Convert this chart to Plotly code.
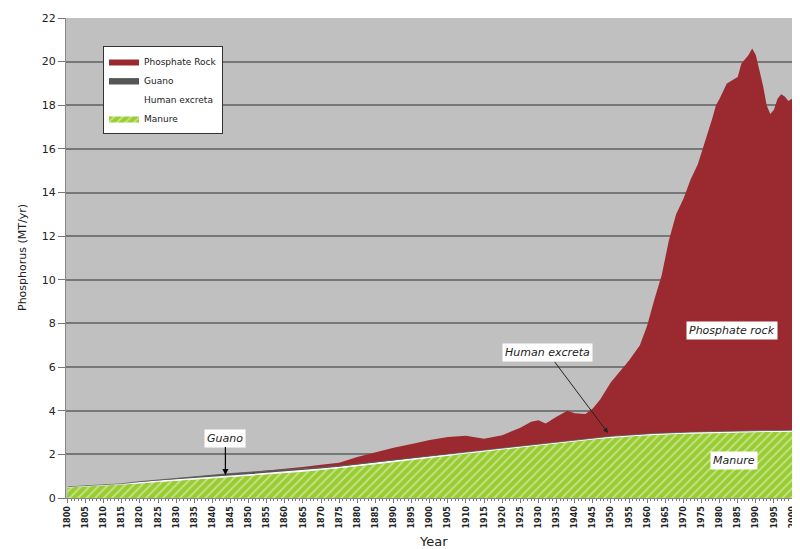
import plotly.graph_objects as go

years = [1800, 1805, 1810, 1815, 1820, 1825, 1830, 1835, 1840, 1845, 1850,
         1855, 1860, 1865, 1870, 1875, 1880, 1885, 1890, 1895, 1900, 1905,
         1910, 1915, 1920, 1925, 1928, 1930, 1932, 1935, 1938, 1940, 1943,
         1945, 1947, 1950, 1952, 1955, 1958, 1960, 1962, 1964, 1966, 1968,
         1970, 1972, 1974, 1976, 1978, 1979, 1980, 1982, 1984, 1985, 1986,
         1988, 1989, 1990, 1991, 1992, 1993, 1994, 1995, 1996, 1997, 1998,
         1999, 2000, 2001, 2002, 2003]

manure = [0.48, 0.52, 0.57, 0.62, 0.67, 0.73, 0.78, 0.84, 0.90, 0.96, 1.02,
          1.07, 1.13, 1.20, 1.28, 1.35, 1.45, 1.55, 1.65, 1.75, 1.85, 1.95,
          2.04, 2.13, 2.22, 2.31, 2.37, 2.41, 2.45, 2.50, 2.56, 2.60, 2.65,
          2.68, 2.71, 2.76, 2.78, 2.82, 2.85, 2.87, 2.89, 2.90, 2.92, 2.93,
          2.94, 2.95, 2.96, 2.97, 2.98, 2.98, 2.99, 2.99, 3.00, 3.00, 3.00,
          3.01, 3.01, 3.01, 3.02, 3.02, 3.02, 3.02, 3.03, 3.03, 3.03, 3.03,
          3.04, 3.04, 3.04, 3.04, 3.04]

human_excreta = [0.04] * 11 + [0.05] * 25 + [0.06] * 35

guano = [0, 0, 0, 0, 0.04, 0.06, 0.07, 0.08, 0.10, 0.12, 0.12,
         0.11, 0.10, 0.09, 0.08, 0.07, 0.06, 0.05, 0.05, 0.04, 0.04, 0.03,
         0.03, 0.02, 0.02, 0.02] + [0.02] * 10 + [0.01] * 35

phosphate_rock = [0, 0, 0, 0, 0, 0, 0, 0, 0, 0, 0,
                  0.02, 0.05, 0.08, 0.11, 0.15, 0.32, 0.45, 0.55, 0.64, 0.72, 0.77,
                  0.73, 0.52, 0.59, 0.84, 1.06, 1.08, 0.90, 1.15, 1.37, 1.21, 1.13,
                  1.35, 1.72, 2.47, 2.85, 3.41, 4.08, 4.96, 6.14, 7.23, 8.81, 10.00,
                  10.69, 11.58, 12.27, 13.26, 14.35, 14.95, 15.24, 15.94, 16.13, 16.23, 16.83,
                  17.22, 17.52, 17.22, 16.51, 15.81, 14.91, 14.51, 14.70, 15.20, 15.40, 15.30,
                  15.09, 15.19, 15.69, 15.89, 16.29]

FONT = "DejaVu Sans"
RED = "#9B2A30"
GREEN = "#99CC33"

# page body has an 8px margin: figure is placed at (8, 8) in the window
OFF = 8
PL, PR, PT, PB = 66, 800, 18, 498  # plot-area edges in window pixels
W, H = 800 - OFF, 549 - OFF

fig = go.Figure()
fig.add_trace(go.Scatter(
    x=years, y=manure, name="Manure", stackgroup="p", mode="lines",
    line=dict(width=0, color=GREEN),
    fillpattern=dict(shape="/", bgcolor=GREEN, fgcolor="#F4FBE6", size=6, solidity=0.3),
))
fig.add_trace(go.Scatter(
    x=years, y=human_excreta, name="Human excreta", stackgroup="p", mode="lines",
    line=dict(width=1.2, color="white"), fillcolor="white",
))
fig.add_trace(go.Scatter(
    x=years, y=guano, name="Guano", stackgroup="p", mode="lines",
    line=dict(width=0.8, color="#555555"), fillcolor="#555555",
))
fig.add_trace(go.Scatter(
    x=years, y=phosphate_rock, name="Phosphate Rock", stackgroup="p", mode="lines",
    line=dict(width=0, color=RED), fillcolor=RED,
))

pw, ph = PR - PL, PB - PT
ann_font = dict(family=FONT, size=11, color="#222", style="italic")
annotations = [
    dict(x=1843.6, y=1.05, xref="x", yref="y", text="Guano", showarrow=True,
         ax=0, ay=-37, arrowhead=2, arrowsize=1, arrowwidth=1.2, arrowcolor="black",
         bgcolor="white", borderpad=2, font=ann_font),
    dict(x=1949.2, y=2.98, xref="x", yref="y", text="Human excreta", showarrow=True,
         ax=-60, ay=-80, arrowhead=2, arrowsize=1, arrowwidth=1, arrowcolor="#222",
         bgcolor="white", borderpad=2, font=ann_font),
    dict(x=1983.4, y=7.7, xref="x", yref="y", text="Phosphate rock", showarrow=False,
         bgcolor="white", borderpad=2, font=ann_font),
    dict(x=1984.0, y=1.7, xref="x", yref="y", text="Manure", showarrow=False,
         bgcolor="white", borderpad=2, font=ann_font),
    dict(x=(433 - PL) / pw, y=(PB - 541) / ph, xref="paper", yref="paper",
         xanchor="center", yanchor="middle",
         text="Year", showarrow=False, font=dict(family=FONT, size=13, color="#222")),
    dict(x=(22 - PL) / pw, y=0.5, xref="paper", yref="paper", textangle=-90,
         xanchor="center", yanchor="middle",
         text="Phosphorus (MT/yr)", showarrow=False,
         font=dict(family=FONT, size=11, color="#222")),
]

fig.update_layout(
    width=W, height=H,
    margin=dict(l=PL - OFF, r=W - (PR - OFF), t=PT - OFF, b=H - (PB - OFF)),
    paper_bgcolor="white", plot_bgcolor="#C0C0C0",
    font=dict(family=FONT, color="#222"),
    showlegend=True,
    legend=dict(x=(103 - PL) / pw, y=(PB - 46) / ph, xanchor="left", yanchor="top",
                bgcolor="white", bordercolor="#333", borderwidth=1,
                font=dict(family=FONT, size=9, color="#222"),
                traceorder="reversed", itemwidth=30, tracegroupgap=0),
    annotations=annotations,
    xaxis=dict(range=[1799.6, 2002.2], dtick=5, tick0=1800, tickangle=-90,
               tickfont=dict(family=FONT, size=8, color="#222", weight="bold"),
               ticks="outside", ticklen=4, tickcolor="#777",
               minor=dict(dtick=1, ticks="outside", ticklen=2, tickcolor="#777"),
               showgrid=False, showline=True, linecolor="#888", zeroline=False,
               automargin=False),
    yaxis=dict(range=[0, 22], dtick=2, tickfont=dict(family=FONT, size=11, color="#222"),
               ticks="outside", ticklen=7, tickcolor="#777",
               showgrid=True, gridcolor="#777777", gridwidth=1.6,
               showline=True, linecolor="#888", zeroline=False, automargin=False),
)

fig.write_html("out.html")
